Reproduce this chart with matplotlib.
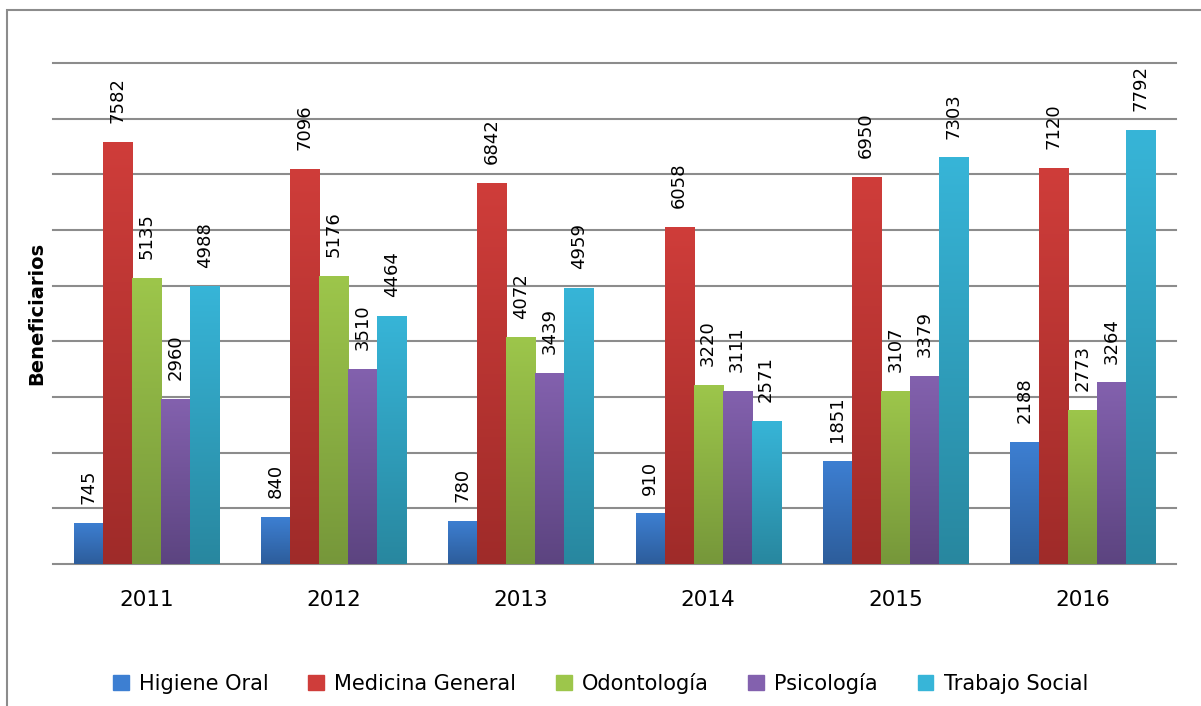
import matplotlib.pyplot as plt
import matplotlib.colors as mcolors
import numpy as np

# datos
years = ['2011', '2012', '2013', '2014', '2015', '2016']
series = ['Higiene Oral', 'Medicina General', 'Odontología', 'Psicología', 'Trabajo Social']
higiene = [745, 840, 780, 910, 1851, 2188]
medicina = [7582, 7096, 6842, 6058, 6950, 7120]
odontologia = [5135, 5176, 4072, 3220, 3107, 2773]
psicologia = [2960, 3510, 3439, 3111, 3379, 3264]
trabajo = [4988, 4464, 4959, 2571, 7303, 7792]
values = [higiene, medicina, odontologia, psicologia, trabajo]

# colores (arriba, abajo) para el degradado
top_colors = ['#3d7fd2', '#cf3d3a', '#9dc64b', '#8361ae', '#37b5d8']
bottom_colors = ['#2d5d9b', '#9f2b29', '#76973a', '#5c4480', '#28879f']

fig = plt.figure(figsize=(12.01, 7.06), dpi=100)
ax = fig.add_axes([53 / 1201, 1 - 564 / 706, (1176 - 53) / 1201, (564 - 63) / 706])

# marco exterior
frame = plt.Rectangle((7 / 1201, -0.05), 1.2, 1 - 10 / 706 + 0.05, transform=fig.transFigure,
                      fill=False, edgecolor='#8c8c8c', linewidth=1.5)
fig.patches.append(frame)

x = np.arange(len(years))
width = 0.155
grad = np.linspace(0, 1, 256).reshape(-1, 1)

for i, (name, vals) in enumerate(zip(series, values)):
    cmap = mcolors.LinearSegmentedColormap.from_list(name, [bottom_colors[i], top_colors[i]])
    pos = x + (i - 2) * width
    bars = ax.bar(pos, vals, width, color=top_colors[i], label=name, zorder=3, linewidth=0)
    for b, v in zip(bars, vals):
        bx, bw = b.get_x(), b.get_width()
        im = ax.imshow(grad, extent=[bx, bx + bw, 0, v], origin='lower', aspect='auto',
                       cmap=cmap, zorder=3)
        im.set_clip_path(b)
        ax.annotate(str(v), (bx + bw / 2, v), xytext=(0, 13.5), textcoords='offset points',
                    rotation=90, ha='center', va='bottom', fontsize=13, zorder=4)

ax.set_xlim(-0.5, len(years) - 0.5)
ax.set_ylim(0, 9000)
ax.set_yticks(np.arange(0, 9001, 1000))
ax.set_yticklabels([])
ax.yaxis.grid(True, color='#8c8c8c', linewidth=1.5, zorder=0)
for gl in ax.get_ygridlines():
    gl.set_clip_on(False)
ax.set_axisbelow(True)
ax.tick_params(axis='both', length=0)
ax.set_xticks(x)
ax.set_xticklabels(years, fontsize=15.5)
ax.tick_params(axis='x', pad=19)
for s in ax.spines.values():
    s.set_visible(False)

ax.set_ylabel('Beneficiarios', fontsize=14, fontweight='bold', labelpad=1)

handles = [plt.Rectangle((0, 0), 1, 1, color=c) for c in top_colors]
fig.legend(handles, series, loc='center', bbox_to_anchor=(0.5, 1 - 683 / 706), ncol=5,
           frameon=False, fontsize=15, handlelength=0.75, handleheight=0.75,
           columnspacing=1.9, handletextpad=0.5)

fig.savefig('out.png', dpi=100)
